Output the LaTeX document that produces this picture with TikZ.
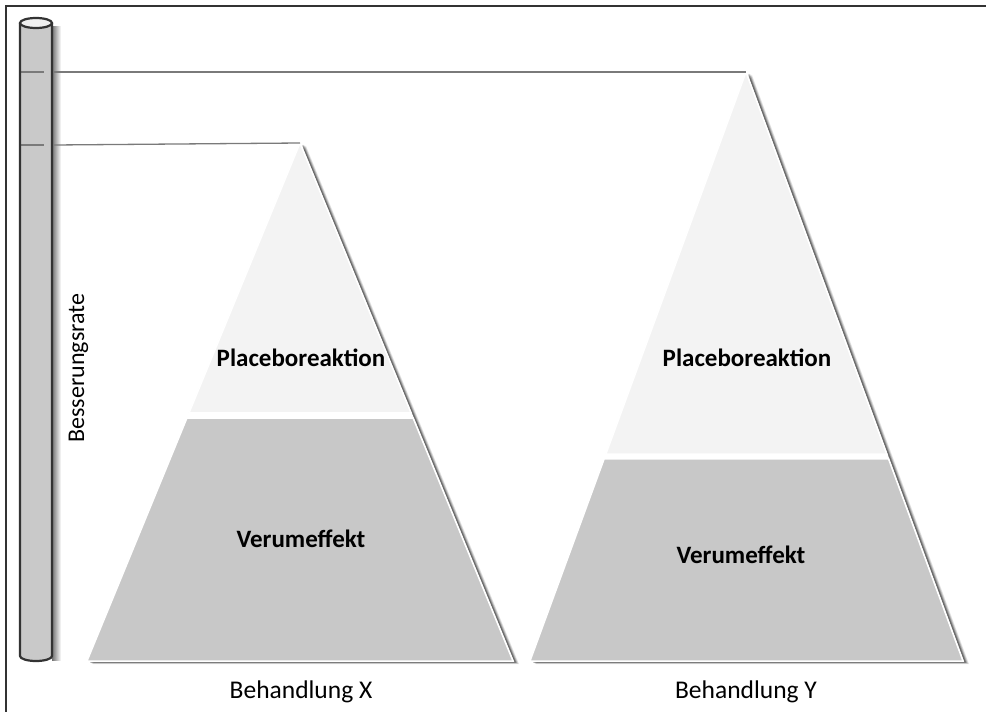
\documentclass[tikz,border=0pt]{standalone}
\usepackage{fontspec}
\setmainfont{Carlito}
\usetikzlibrary{calc}
\definecolor{upperfill}{HTML}{F3F3F3}
\definecolor{lowerfill}{HTML}{C8C8C8}
\definecolor{cylfill}{HTML}{C9C9C9}
\definecolor{cyledge}{HTML}{333333}
\definecolor{tickgray}{HTML}{7A7A7A}
\tikzset{
  piece/.style={draw=white, line width=1.5pt, line join=miter},
  upper/.style={piece, fill=upperfill},
  lower/.style={piece, fill=lowerfill},
  shadowlayer/.style={fill=black, fill opacity=#1},
  tickline/.style={draw=tickgray, line width=1.3pt},
  lbl/.style={font=\bfseries\fontsize{25}{30}\selectfont, inner sep=0pt},
  captext/.style={font=\fontsize{25.5}{30}\selectfont, inner sep=0pt},
}
\begin{document}
\begin{tikzpicture}[x=1pt,y=-1pt]
\useasboundingbox (0,0) rectangle (986,712);
\fill[white] (0,0) rectangle (986,712);
% frame
\draw[cyledge, line width=1.3pt] (6,712) -- (6,6) -- (986,6);

% pyramid X
\coordinate (xa) at (300,143);
\coordinate (xl) at (87,661);
\coordinate (xr) at (513,661);
\foreach \dx/\dy/\op in {6/3/0.10, 5/2.5/0.15, 4/2/0.2, 3/1.5/0.3}{
  \path[shadowlayer=\op] ($(xa)+(\dx,\dy)$) -- ($(xr)+(\dx,\dy)$) -- ($(xl)+(\dx,\dy)$) -- cycle;
}
\path[fill=white, draw=white, line width=1.5pt] (xa) -- (xr) -- (xl) -- cycle;
\path[upper] (xa) -- ($(xa)!0.5212!(xr)$) -- ($(xa)!0.5212!(xl)$) -- cycle;
\path[lower] ($(xa)!0.5309!(xl)$) -- ($(xa)!0.5309!(xr)$) -- (xr) -- (xl) -- cycle;

% pyramid Y
\coordinate (ya) at (746,72);
\coordinate (yl) at (530,661);
\coordinate (yr) at (963,661);
\foreach \dx/\dy/\op in {6/3/0.10, 5/2.5/0.15, 4/2/0.2, 3/1.5/0.3}{
  \path[shadowlayer=\op] ($(ya)+(\dx,\dy)$) -- ($(yr)+(\dx,\dy)$) -- ($(yl)+(\dx,\dy)$) -- cycle;
}
\path[fill=white, draw=white, line width=1.5pt] (ya) -- (yr) -- (yl) -- cycle;
\path[upper] (ya) -- ($(ya)!0.6486!(yr)$) -- ($(ya)!0.6486!(yl)$) -- cycle;
\path[lower] ($(ya)!0.6570!(yl)$) -- ($(ya)!0.6570!(yr)$) -- (yr) -- (yl) -- cycle;

% cylinder
\shade[left color=black!55, right color=white] (52,26) rectangle (61,660);
\fill[cylfill] (20,23) -- (20,656) arc[start angle=180, end angle=360, x radius=16pt, y radius=5pt] -- (52,23) -- cycle;
\coordinate (c1a) at (21,72);
\coordinate (c1b) at (44,72);
\coordinate (c1c) at (54,72);
\coordinate (c2a) at (21,145);
\coordinate (c2b) at (44,145);
\coordinate (c2c) at (54,145);
\draw[tickline] (c1a) -- (c1b);
\draw[tickline] (c2a) -- (c2b);
\draw[cyledge, line width=2.2pt] (20,23) -- (20,656) arc[start angle=180, end angle=360, x radius=16pt, y radius=5pt] -- (52,23);
\draw[cyledge, line width=2.2pt, fill=gray!12] (36,23) ellipse[x radius=16pt, y radius=5pt];

% ticks to apexes
\draw[tickline] (c1c) -- (ya);
\draw[tickline] (c2c) -- (xa);

% labels
\node[lbl, anchor=base] (px) at (301,366) {Placeboreaktion};
\node[lbl, anchor=base] (vx) at (301,547) {Verumeffekt};
\node[lbl, anchor=base] (py) at (747,366) {Placeboreaktion};
\node[lbl, anchor=base] (vy) at (741,563) {Verumeffekt};
\node[captext, anchor=base] (bx) at (301,698) {Behandlung X};
\node[captext, anchor=base] (by) at (746,698) {Behandlung Y};
\node[captext, font=\fontsize{24}{28}\selectfont, anchor=base, rotate=90] (br) at (84,368) {Besserungsrate};
\end{tikzpicture}
\end{document}
